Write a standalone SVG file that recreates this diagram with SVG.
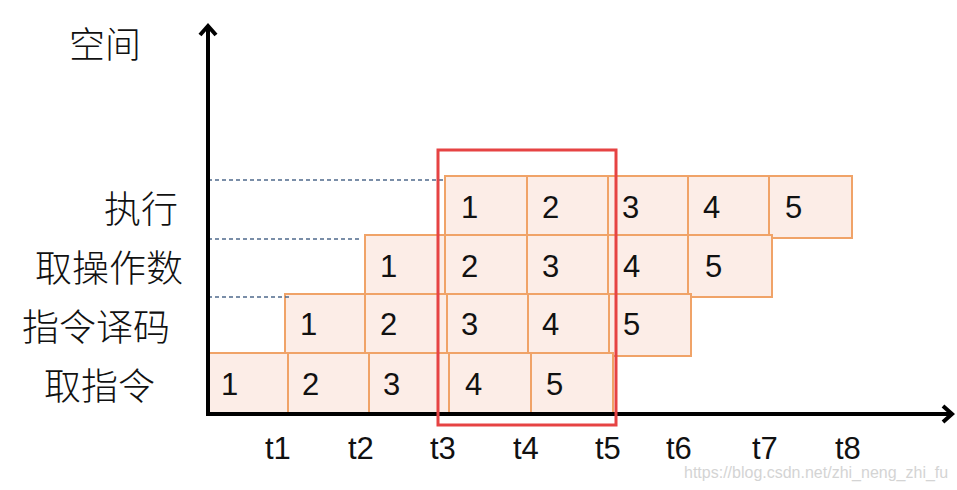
<svg xmlns="http://www.w3.org/2000/svg" width="957" height="490" viewBox="0 0 957 490">
<style>
.c{fill:#fcede7;stroke:#f0a368;stroke-width:2}
.n{font-family:"Liberation Sans","DejaVu Sans",sans-serif;font-size:31px;fill:#111}
.lab{font-family:"Noto Sans CJK SC",sans-serif;font-size:37px;font-weight:300;fill:#111}
.t{font-family:"Liberation Sans","DejaVu Sans",sans-serif;font-size:31px;fill:#111}
.dash{stroke:#4f6a8c;stroke-width:1.3;stroke-dasharray:4 3;fill:none}
.ax{stroke:#000;stroke-width:4;fill:none}
</style>
<rect width="957" height="490" fill="#fff"/>
<text class="lab" x="69" y="58" style="font-size:36px">空间</text>
<text class="lab" x="104" y="223">执行</text>
<text class="lab" x="35" y="282">取操作数</text>
<text class="lab" x="22" y="341">指令译码</text>
<text class="lab" x="44" y="400">取指令</text>
<g id="row-exec">
<rect class="c" x="445" y="176" width="82" height="60"/><text class="n" x="461" y="218">1</text>
<rect class="c" x="527" y="176" width="81" height="60"/><text class="n" x="542" y="218">2</text>
<rect class="c" x="608" y="176" width="80" height="60"/><text class="n" x="622" y="218">3</text>
<rect class="c" x="688" y="176" width="81" height="60"/><text class="n" x="703" y="218">4</text>
<rect class="c" x="769" y="176" width="83" height="62"/><text class="n" x="785" y="218">5</text>
</g>
<g id="row-operand">
<rect class="c" x="365" y="235" width="80" height="59"/><text class="n" x="380" y="277">1</text>
<rect class="c" x="445" y="235" width="82" height="59"/><text class="n" x="461" y="277">2</text>
<rect class="c" x="527" y="235" width="81" height="59"/><text class="n" x="542" y="277">3</text>
<rect class="c" x="608" y="235" width="80" height="59"/><text class="n" x="623" y="277">4</text>
<rect class="c" x="688" y="235" width="84" height="62"/><text class="n" x="705" y="277">5</text>
</g>
<g id="row-decode">
<rect class="c" x="285" y="294" width="80" height="59"/><text class="n" x="300" y="335">1</text>
<rect class="c" x="365" y="294" width="82" height="59"/><text class="n" x="380" y="335">2</text>
<rect class="c" x="447" y="294" width="81" height="59"/><text class="n" x="461" y="335">3</text>
<rect class="c" x="528" y="294" width="81" height="59"/><text class="n" x="542" y="335">4</text>
<rect class="c" x="609" y="294" width="82" height="62"/><text class="n" x="623" y="335">5</text>
</g>
<g id="row-fetch">
<rect class="c" x="207" y="353" width="81" height="60"/><text class="n" x="221" y="395">1</text>
<rect class="c" x="288" y="353" width="81" height="60"/><text class="n" x="302" y="395">2</text>
<rect class="c" x="369" y="353" width="80" height="60"/><text class="n" x="383" y="395">3</text>
<rect class="c" x="449" y="353" width="82" height="60"/><text class="n" x="465" y="395">4</text>
<rect class="c" x="531" y="353" width="82" height="60"/><text class="n" x="546" y="395">5</text>
</g>
<g id="connectors">
<line class="dash" x1="208" y1="180" x2="445" y2="180"/>
<line class="dash" x1="208" y1="239" x2="362" y2="239"/>
<line class="dash" x1="208" y1="297" x2="290" y2="297"/>
<path class="ax" d="M208 415 L208 26"/>
<path class="ax" d="M200 35 L208 26 L216 35"/>
<path class="ax" d="M206 414 L952 414"/>
<path class="ax" d="M943 406 L952 414 L943 422"/>
</g>
<rect id="window" x="438" y="150" width="178" height="275" fill="none" stroke="#e64343" stroke-width="3"/>
<text class="t" x="265" y="459">t1</text>
<text class="t" x="348" y="459">t2</text>
<text class="t" x="430" y="459">t3</text>
<text class="t" x="513" y="459">t4</text>
<text class="t" x="595" y="459">t5</text>
<text class="t" x="666" y="459">t6</text>
<text class="t" x="752" y="459">t7</text>
<text class="t" x="835" y="459">t8</text>
<text x="684" y="478" font-family="Liberation Sans,sans-serif" font-size="16" fill="#d4d4d4">https://blog.csdn.net/zhi_neng_zhi_fu</text>
</svg>
